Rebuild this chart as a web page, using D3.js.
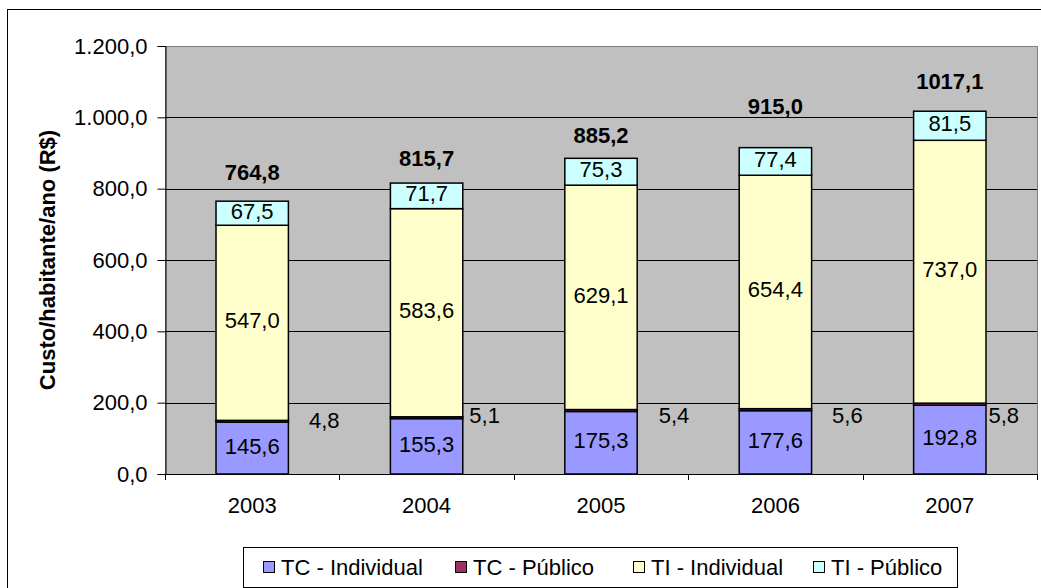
<!DOCTYPE html>
<html>
<head>
<meta charset="utf-8">
<script src="https://cdn.jsdelivr.net/npm/d3@7"></script>
<style>
  html, body { margin: 0; padding: 0; background: #fff; }
  svg { display: block; font-family: Arial, "Liberation Sans", sans-serif; }
</style>
</head>
<body>
<svg id="chart" width="1041" height="588"></svg>
<script>
// Custo por habitante por ano (R$), por modo e tipo de custo
const years = ["2003", "2004", "2005", "2006", "2007"];
const tcIndividual = [145.6, 155.3, 175.3, 177.6, 192.8];
const tcPublico = [4.8, 5.1, 5.4, 5.6, 5.8];
const tiIndividual = [547.0, 583.6, 629.1, 654.4, 737.0];
const tiPublico = [67.5, 71.7, 75.3, 77.4, 81.5];
const totals = [764.8, 815.7, 885.2, 915.0, 1017.1];
const yTicks = [0, 200, 400, 600, 800, 1000, 1200];

const seriesNames = ["TC - Individual", "TC - Público", "TI - Individual", "TI - Público"];
const seriesColors = ["#9999FF", "#993366", "#FFFFCC", "#CCFFFF"];

// label placement tweaks (pixels)
const totalLift = [29, 25, 23, 41, 30];
const smallLabelDx = [72, 58, 73, 72, 54];
const smallLabelY = [420, 415, 415, 415, 415];

const FONT = 22;

// decimal comma; thousands dot only on the axis
const fmtAxis = v => d3.format(",.1f")(v).replace(/,/g, "#").replace(".", ",").replace(/#/g, ".");
const fmtVal = v => d3.format(".1f")(v).replace(".", ",");

const svg = d3.select("#chart");
const W = 1041, H = 588;
const plot = { left: 165, right: 1037, top: 46, bottom: 474 };

// outer chart border
svg.append("rect")
  .attr("x", 7.5).attr("y", 9.5)
  .attr("width", W).attr("height", H)
  .attr("fill", "#fff").attr("stroke", "#000").attr("stroke-width", 1);

const x = d3.scaleBand().domain(years)
  .range([plot.left, plot.right])
  .paddingInner(0.585).paddingOuter(0.2925);
const y = d3.scaleLinear().domain([0, 1200]).range([plot.bottom, plot.top]);

// plot area background
svg.append("rect")
  .attr("x", plot.left + 0.5).attr("y", plot.top + 0.5)
  .attr("width", plot.right - plot.left).attr("height", plot.bottom - plot.top)
  .attr("fill", "#C0C0C0").attr("stroke", "#808080").attr("stroke-width", 1);

// horizontal gridlines
svg.append("g").selectAll("line")
  .data(yTicks.filter(t => t > 0 && t < 1200))
  .join("line")
  .attr("x1", plot.left).attr("x2", plot.right)
  .attr("y1", d => Math.round(y(d)) + 0.5).attr("y2", d => Math.round(y(d)) + 0.5)
  .attr("stroke", "#000").attr("stroke-width", 1);

// stacked data
const rows = years.map((yr, i) => ({
  year: yr,
  "TC - Individual": tcIndividual[i],
  "TC - Público": tcPublico[i],
  "TI - Individual": tiIndividual[i],
  "TI - Público": tiPublico[i]
}));
const stacked = d3.stack().keys(seriesNames)(rows);

const layers = svg.append("g").selectAll("g")
  .data(stacked).join("g")
  .attr("fill", (d, i) => seriesColors[i]);

layers.selectAll("rect")
  .data(d => d)
  .join("rect")
  .attr("x", d => x(d.data.year))
  .attr("width", x.bandwidth())
  .attr("y", d => y(d[1]))
  .attr("height", d => y(d[0]) - y(d[1]))
  .attr("stroke", "#000").attr("stroke-width", 1.5);

// segment value labels
stacked.forEach((layer, si) => {
  layer.forEach((d, i) => {
    const cx = x(d.data.year) + x.bandwidth() / 2;
    let lx = cx, ly = (y(d[0]) + y(d[1])) / 2 - 2;
    if (si === 1) { lx = cx + smallLabelDx[i]; ly = smallLabelY[i]; }
    svg.append("text")
      .attr("x", lx).attr("y", ly)
      .attr("text-anchor", "middle").attr("dominant-baseline", "central")
      .attr("font-size", FONT).attr("fill", "#000")
      .text(fmtVal(d[1] - d[0]));
  });
});

// totals above the bars
svg.append("g").selectAll("text")
  .data(totals).join("text")
  .attr("x", (d, i) => x(years[i]) + x.bandwidth() / 2)
  .attr("y", (d, i) => y(d) - totalLift[i])
  .attr("text-anchor", "middle").attr("dominant-baseline", "central")
  .attr("font-size", FONT).attr("font-weight", "bold")
  .text(d => fmtVal(d));

// y axis
const yAxis = svg.append("g")
  .attr("transform", `translate(${plot.left + 0.5},0)`)
  .call(d3.axisLeft(y).tickValues(yTicks).tickSize(8).tickPadding(10).tickFormat(fmtAxis));
yAxis.select(".domain").attr("stroke", "#000");
yAxis.selectAll(".tick line").attr("stroke", "#000");
yAxis.selectAll(".tick text").attr("font-size", FONT).attr("fill", "#000")
  .attr("font-family", "Arial, 'Liberation Sans', sans-serif");

// x axis: ticks at category boundaries
const xAxisG = svg.append("g");
xAxisG.append("line")
  .attr("x1", plot.left).attr("x2", plot.right + 1)
  .attr("y1", plot.bottom + 0.5).attr("y2", plot.bottom + 0.5)
  .attr("stroke", "#000");
xAxisG.selectAll("line.tick")
  .data(d3.range(years.length + 1)).join("line").attr("class", "tick")
  .attr("x1", i => Math.round(plot.left + i * x.step()) + 0.5)
  .attr("x2", i => Math.round(plot.left + i * x.step()) + 0.5)
  .attr("y1", plot.bottom).attr("y2", plot.bottom + 6)
  .attr("stroke", "#000");
xAxisG.selectAll("text")
  .data(years).join("text")
  .attr("x", d => x(d) + x.bandwidth() / 2)
  .attr("y", 505)
  .attr("text-anchor", "middle").attr("dominant-baseline", "central")
  .attr("font-size", FONT)
  .text(d => d);

// y axis title
svg.append("text")
  .attr("transform", `translate(47,${(plot.top + plot.bottom) / 2}) rotate(-90)`)
  .attr("text-anchor", "middle").attr("dominant-baseline", "central")
  .attr("font-size", FONT).attr("font-weight", "bold")
  .text("Custo/habitante/ano (R$)");

// legend
const legend = svg.append("g");
legend.append("rect")
  .attr("x", 243.5).attr("y", 547.5).attr("width", 714).attr("height", 40)
  .attr("fill", "#fff").attr("stroke", "#000").attr("stroke-width", 1);
const legendX = [263, 455, 633, 813];
const items = legend.selectAll("g.item")
  .data(seriesNames).join("g").attr("class", "item")
  .attr("transform", (d, i) => `translate(${legendX[i]},567)`);
items.append("rect")
  .attr("x", 0.5).attr("y", -5.5).attr("width", 11).attr("height", 11)
  .attr("fill", (d, i) => seriesColors[i]).attr("stroke", "#000").attr("stroke-width", 1);
items.append("text")
  .attr("x", 18).attr("y", 0)
  .attr("dominant-baseline", "central")
  .attr("font-size", FONT)
  .text(d => d);
</script>
</body>
</html>
